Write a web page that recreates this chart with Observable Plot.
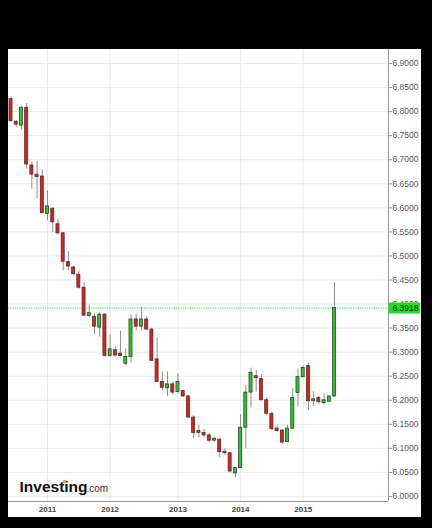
<!DOCTYPE html>
<html>
<head>
<meta charset="utf-8">
<script src="https://cdn.jsdelivr.net/npm/d3@7"></script>
<script src="https://cdn.jsdelivr.net/npm/@observablehq/plot@0.6"></script>
<style>
  html, body { margin: 0; padding: 0; background: #000; }
  body { width: 432px; height: 528px; overflow: hidden; position: relative; }
  #chart { position: absolute; left: 8px; top: 49px; width: 413px; height: 468px; background: #fff; }
  #chart svg { display: block; }
</style>
</head>
<body>
<div id="chart"></div>
<script>
// USD/CNY monthly candles, one slot per bar (index 0 = first bar)
const opens  = [6.826, 6.779, 6.771, 6.808, 6.688, 6.669, 6.665, 6.587, 6.598, 6.566,
                6.547, 6.487, 6.476, 6.461, 6.434, 6.375, 6.373, 6.351, 6.378, 6.292,
                6.304, 6.297, 6.276, 6.290, 6.368, 6.353, 6.368, 6.347, 6.285, 6.238,
                6.225, 6.233, 6.217, 6.219, 6.208, 6.164, 6.136, 6.132, 6.127, 6.116,
                6.118, 6.093, 6.090, 6.048, 6.059, 6.143, 6.216, 6.250, 6.244, 6.200,
                6.172, 6.141, 6.137, 6.113, 6.141, 6.215, 6.248, 6.271, 6.198, 6.205,
                6.194, 6.197, 6.208];
const highs  = [6.830, 6.781, 6.811, 6.817, 6.696, 6.696, 6.679, 6.635, 6.601, 6.576,
                6.548, 6.509, 6.479, 6.469, 6.444, 6.398, 6.380, 6.382, 6.380, 6.336,
                6.311, 6.344, 6.307, 6.378, 6.378, 6.393, 6.373, 6.350, 6.329, 6.259,
                6.259, 6.238, 6.255, 6.220, 6.210, 6.168, 6.148, 6.139, 6.130, 6.122,
                6.120, 6.099, 6.090, 6.059, 6.170, 6.231, 6.267, 6.262, 6.253, 6.205,
                6.174, 6.148, 6.139, 6.148, 6.224, 6.265, 6.271, 6.276, 6.218, 6.208,
                6.213, 6.209, 6.445];
const lows   = [6.778, 6.768, 6.762, 6.680, 6.639, 6.618, 6.587, 6.573, 6.549, 6.543,
                6.469, 6.469, 6.459, 6.431, 6.375, 6.373, 6.336, 6.331, 6.290, 6.290,
                6.290, 6.290, 6.272, 6.277, 6.344, 6.344, 6.345, 6.281, 6.238, 6.220,
                6.208, 6.211, 6.213, 6.206, 6.162, 6.120, 6.122, 6.122, 6.112, 6.113,
                6.080, 6.085, 6.049, 6.039, 6.059, 6.099, 6.184, 6.217, 6.199, 6.168,
                6.137, 6.134, 6.108, 6.112, 6.140, 6.186, 6.247, 6.179, 6.187, 6.191,
                6.191, 6.196, 6.206];
const closes = [6.780, 6.773, 6.808, 6.690, 6.669, 6.664, 6.589, 6.603, 6.570, 6.547,
                6.488, 6.478, 6.462, 6.434, 6.376, 6.381, 6.353, 6.378, 6.292, 6.306,
                6.293, 6.292, 6.290, 6.368, 6.353, 6.368, 6.347, 6.282, 6.238, 6.226,
                6.233, 6.216, 6.238, 6.208, 6.164, 6.132, 6.132, 6.127, 6.116, 6.120,
                6.092, 6.090, 6.052, 6.059, 6.143, 6.216, 6.257, 6.246, 6.200, 6.172,
                6.140, 6.136, 6.112, 6.141, 6.205, 6.248, 6.267, 6.198, 6.202, 6.196,
                6.200, 6.208, 6.3918];

// first bar of each year, and the labels drawn under them
const yearTicks  = [7, 19, 32, 44, 56];
const yearLabels = ["2011", "2012", "2013", "2014", "2015"];

// price scale ticks
const priceTicks = [6.00, 6.05, 6.10, 6.15, 6.20, 6.25, 6.30, 6.35, 6.40, 6.45,
                    6.50, 6.55, 6.60, 6.65, 6.70, 6.75, 6.80, 6.85, 6.90];

const candles = opens.map((o, i) => ({
  i, open: o, high: highs[i], low: lows[i], close: closes[i]
}));
const lastClose = closes[closes.length - 1];

const xDomain = [-0.48, 72.35];
const yDomain = [5.9896, 6.9291];
const plotW = 380;

const UP = "#1fd11f", DOWN = "#ee1a12";
const fmt4 = d3.format(".4f");
const font = "'Liberation Sans', Arial, sans-serif";

const chart = Plot.plot({
  width: 413,
  height: 468,
  marginTop: 0,
  marginLeft: 0,
  marginRight: 33,
  marginBottom: 16,
  style: { background: "transparent", fontFamily: font, overflow: "visible" },
  x: { type: "linear", domain: xDomain },
  y: { domain: yDomain },
  marks: [
    Plot.gridY(priceTicks, { stroke: "#e9e9e9", strokeOpacity: 1 }),
    Plot.gridX(yearTicks, { stroke: "#e9e9e9", strokeOpacity: 1 }),

    // current price line
    Plot.ruleY([lastClose], { stroke: "#3bef3b", strokeWidth: 1.2, strokeDasharray: "1.3,1" }),

    // wicks, then bodies
    Plot.ruleX(candles, { x: "i", y1: "low", y2: "high", stroke: "#8e8e8e", strokeWidth: 1 }),
    Plot.rect(candles, {
      x1: d => d.i - 0.29,
      x2: d => d.i + 0.29,
      y1: "open",
      y2: "close",
      fill: d => (d.close >= d.open ? UP : DOWN),
      stroke: "#3a3a3a",
      strokeWidth: 0.8
    }),

    // axis lines
    Plot.ruleX([xDomain[1]], { stroke: "#9a9a9a" }),
    Plot.ruleY([yDomain[0]], { stroke: "#9a9a9a" }),

    Plot.axisY(priceTicks, {
      anchor: "right",
      tickFormat: fmt4,
      tickSize: 3,
      tickPadding: 1,
      fontSize: 8.5,
      color: "#5a5a5a",
      stroke: "#9a9a9a",
      label: null
    }),
    Plot.axisX(yearTicks, {
      anchor: "bottom",
      tickFormat: d => yearLabels[yearTicks.indexOf(d)],
      tickSize: 0,
      tickPadding: 5,
      fontSize: 8,
      fontWeight: "bold",
      color: "#444",
      label: null
    }),

    // current price tag on the price axis
    Plot.ruleY([lastClose], { stroke: "#22e022", strokeWidth: 11, insetLeft: plotW + 0.5, insetRight: -32 }),
    Plot.text([lastClose], {
      y: d => d,
      frameAnchor: "right",
      dx: 4,
      textAnchor: "start",
      text: d => fmt4(d),
      fontSize: 8.5,
      fill: "#111"
    }),

    // brand mark
    Plot.text(["Investing"], {
      frameAnchor: "bottom-left",
      text: d => d,
      dx: 11,
      dy: -10,
      textAnchor: "start",
      lineAnchor: "bottom",
      fontSize: 15.5,
      fontWeight: "bold",
      letterSpacing: "-0.4px",
      fill: "#111"
    }),
    Plot.dot([0], {
      frameAnchor: "bottom-left",
      dx: 56,
      dy: -20,
      r: 1.7,
      fill: "#f5a01a",
      stroke: "none"
    }),
    Plot.text([".com"], {
      frameAnchor: "bottom-left",
      text: d => d,
      dx: 78,
      dy: -10,
      textAnchor: "start",
      lineAnchor: "bottom",
      fontSize: 10,
      fill: "#333"
    })
  ]
});

document.getElementById("chart").appendChild(chart);
</script>
</body>
</html>
